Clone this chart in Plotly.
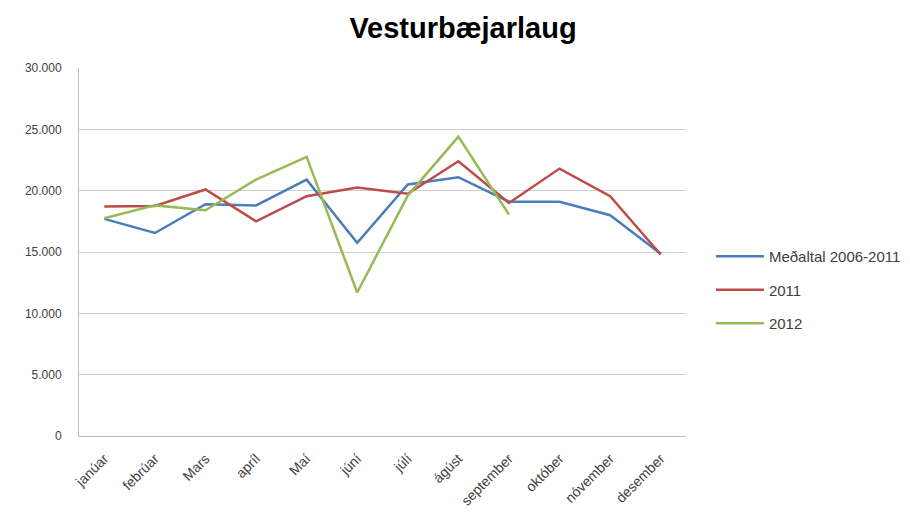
import plotly.graph_objects as go

months = ["janúar", "febrúar", "Mars", "apríl", "Maí", "júní", "júlí", "ágúst",
          "september", "október", "nóvember", "desember"]
medaltal = [17700, 16550, 18900, 18800, 20900, 15750, 20500, 21100, 19100, 19100, 18000, 14850]
y2011 = [18700, 18750, 20100, 17500, 19550, 20250, 19750, 22400, 19000, 21800, 19550, 14800]
y2012 = [17750, 18800, 18400, 20900, 22750, 11700, 19600, 24400, 18050]

series_names = ["Meðaltal 2006-2011", "2011", "2012"]
colors = ["#4A7EBB", "#BE4B48", "#98B954"]
ytick_vals = [0, 5000, 10000, 15000, 20000, 25000, 30000]

fig = go.Figure()
for i, (name, vals, col) in enumerate(zip(series_names, [medaltal, y2011, y2012], colors)):
    fig.add_trace(go.Scatter(x=months[:len(vals)], y=vals, name=name, mode="lines",
                             legendgroup=f"g{i}",
                             line=dict(color=col, width=2.5)))

font_family = "Liberation Sans, Arial, sans-serif"
fig.update_layout(
    width=910, height=517,
    paper_bgcolor="white", plot_bgcolor="white",
    separators=",.",
    margin=dict(l=71, r=232, t=60, b=89),
    title=dict(text="<b>Vesturbæjarlaug</b>", x=0.5, xanchor="center", y=0.961, yanchor="middle",
               font=dict(family=font_family, size=29, color="black")),
    font=dict(family=font_family, size=11, color="#404040"),
    showlegend=True,
    legend=dict(x=1.041, y=0.397, xanchor="left", yanchor="middle",
                font=dict(size=15, color="#404040"), tracegroupgap=11,
                itemwidth=48, bgcolor="rgba(0,0,0,0)"),
)
fig.update_xaxes(type="category", range=[-0.5, 11.5], tickangle=-45,
                 showline=True, linecolor="#BFBFBF", linewidth=1,
                 showgrid=False, ticks="", ticklabelstandoff=8,
                 tickfont=dict(size=14, color="#404040"))
fig.update_yaxes(range=[0, 30000], tickvals=ytick_vals, tickformat=",d",
                 showline=True, linecolor="#BFBFBF", linewidth=1,
                 showgrid=True, gridcolor="#D0D0D0", gridwidth=1,
                 ticks="", ticklabelstandoff=14,
                 zeroline=False, tickfont=dict(size=12, color="#404040"))

fig.write_html("out.html")
